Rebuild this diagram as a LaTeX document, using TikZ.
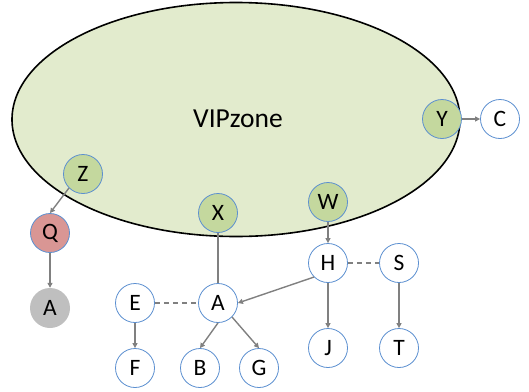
\documentclass[tikz,border=0pt]{standalone}
\usepackage{fontspec}
\setmainfont{Carlito}
\usetikzlibrary{arrows.meta}
\definecolor{zonefill}{RGB}{226,235,205}
\definecolor{nodegreen}{RGB}{196,216,158}
\definecolor{nodered}{RGB}{217,150,148}
\definecolor{nodegray}{RGB}{191,191,191}
\definecolor{nodeborder}{RGB}{91,143,208}
\definecolor{edgegray}{RGB}{128,128,128}
\tikzset{
  vnode/.style={circle, draw=nodeborder, line width=0.8pt, fill=white, minimum size=39pt, inner sep=0pt, font=\fontsize{23.5}{25}\selectfont},
  gnode/.style={vnode, fill=nodegreen},
  rnode/.style={vnode, fill=nodered},
  greynode/.style={circle, draw=none, fill=nodegray, minimum size=40pt, inner sep=0pt, font=\fontsize{23.5}{25}\selectfont},
  conn/.style={draw=edgegray, line width=1.4pt, -{Triangle[length=5pt,width=5pt]}},
  plainconn/.style={draw=edgegray, line width=1.4pt},
  dashconn/.style={draw=edgegray, line width=1.4pt, dash pattern=on 5pt off 4pt}
}
\begin{document}
\begin{tikzpicture}[x=1pt,y=-1pt]
\useasboundingbox (0,0) rectangle (529,391);
\draw[fill=zonefill, line width=1.6pt] (236,119.5) ellipse [x radius=224, y radius=117];
\node[font=\fontsize{27.5}{29}\selectfont] (zone) at (238,119) {VIPzone};
\node[gnode] (Y) at (442,119) {Y};
\node[vnode] (C) at (500,119) {C};
\node[gnode] (Z) at (83,174) {Z};
\node[gnode] (X) at (218,213) {X};
\node[gnode] (W) at (328,202) {W};
\node[rnode] (Q) at (50,233) {Q};
\node[greynode] (Ag) at (50,308) {A};
\node[vnode] (E) at (135,303) {E};
\node[vnode] (A) at (218,303) {A};
\node[vnode] (F) at (135,368) {F};
\node[vnode] (B) at (200,368) {B};
\node[vnode] (G) at (259,368) {G};
\node[vnode] (H) at (328,263) {H};
\node[vnode] (S) at (399,263) {S};
\node[vnode] (J) at (328,348) {J};
\node[vnode] (T) at (399,348) {T};
\draw[conn] (Y.east) -- (C.west);
\draw[conn] (Z.south west) -- (Q.north);
\draw[conn] (Q.south) -- (Ag.north);
\draw[plainconn] (X.south) -- (A.north);
\draw[conn] (W.south) -- (H.north);
\draw[conn] (H.south west) -- (A.east);
\draw[dashconn] (E.east) -- (A.west);
\draw[dashconn] (H.east) -- (S.west);
\draw[conn] (E.south) -- (F.north);
\draw[conn] (A.south) -- (B.north);
\draw[conn] (A.south east) -- (G.north);
\draw[conn] (H.south) -- (J.north);
\draw[conn] (S.south) -- (T.north);
\end{tikzpicture}
\end{document}
